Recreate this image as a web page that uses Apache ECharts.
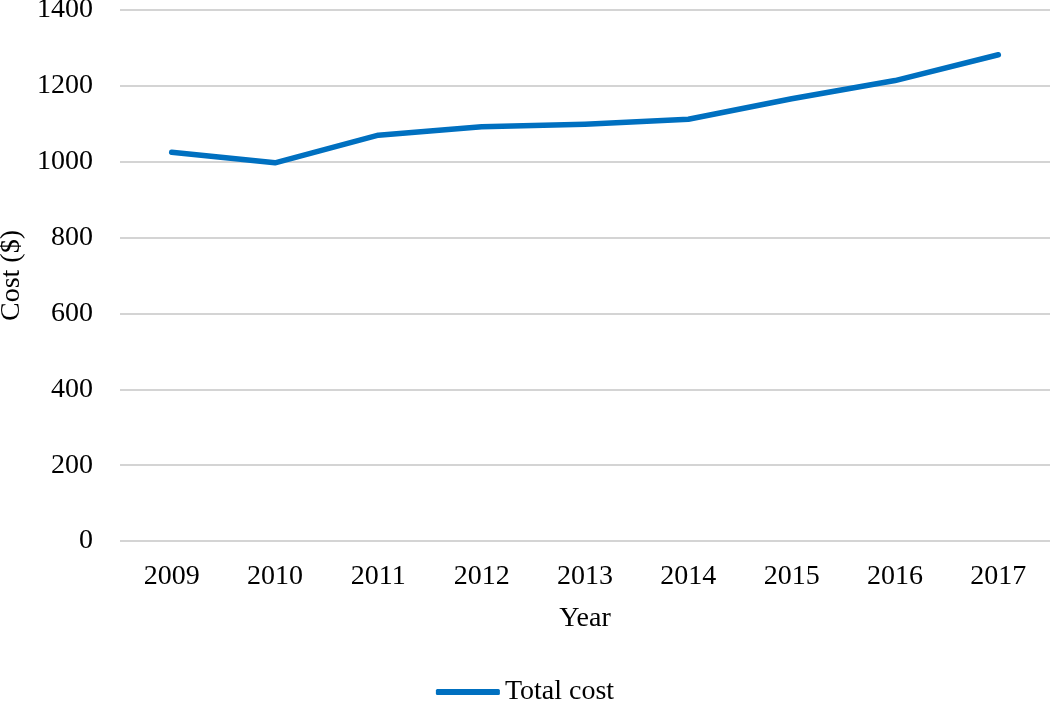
<!DOCTYPE html>
<html>
<head>
<meta charset="utf-8">
<script src="https://cdn.jsdelivr.net/npm/echarts@6/dist/echarts.min.js"></script>
<style>html,body{margin:0;padding:0;background:#fff;}#c{width:1050px;height:703px;}</style>
</head>
<body>
<div id="c"></div>
<script>
const years = ['2009','2010','2011','2012','2013','2014','2015','2016','2017'];
const totalCost = [1025, 997, 1070, 1092, 1099, 1112, 1166, 1214, 1282];
const yTicks = {min: 0, max: 1400, interval: 200};

const font = 'Liberation Serif';
const chart = echarts.init(document.getElementById('c'));
chart.setOption({
  animation: false,
  textStyle: {fontFamily: font},
  grid: {left: 120, right: 0, top: 10, bottom: 162, containLabel: false, outerBoundsMode: 'none'},
  legend: {
    top: 673, left: 'center',
    itemWidth: 64, itemHeight: 6, itemGap: 6,
    icon: 'roundRect',
    textStyle: {fontFamily: font, fontSize: 28, color: '#000'},
    data: ['Total cost']
  },
  xAxis: {
    type: 'category', data: years,
    name: 'Year', nameLocation: 'middle', nameGap: 64,
    nameTextStyle: {fontFamily: font, fontSize: 28, color: '#000'},
    axisLine: {show: false}, axisTick: {show: false},
    axisLabel: {fontFamily: font, fontSize: 28, color: '#000', margin: 22}
  },
  yAxis: {
    type: 'value', min: yTicks.min, max: yTicks.max, interval: yTicks.interval,
    name: 'Cost ($)', nameLocation: 'middle', nameGap: 89, nameRotate: 90,
    nameTextStyle: {fontFamily: font, fontSize: 28, color: '#000'},
    axisLine: {show: false}, axisTick: {show: false},
    axisLabel: {fontFamily: font, fontSize: 28, color: '#000', margin: 27, formatter: v => String(v)},
    splitLine: {lineStyle: {color: '#d4d4d4', width: 2}}
  },
  series: [{
    name: 'Total cost', type: 'line', data: totalCost,
    showSymbol: false, symbol: 'none',
    lineStyle: {color: '#0070C0', width: 5.5, cap: 'round', join: 'round'},
    itemStyle: {color: '#0070C0'}
  }]
});
</script>
</body>
</html>
